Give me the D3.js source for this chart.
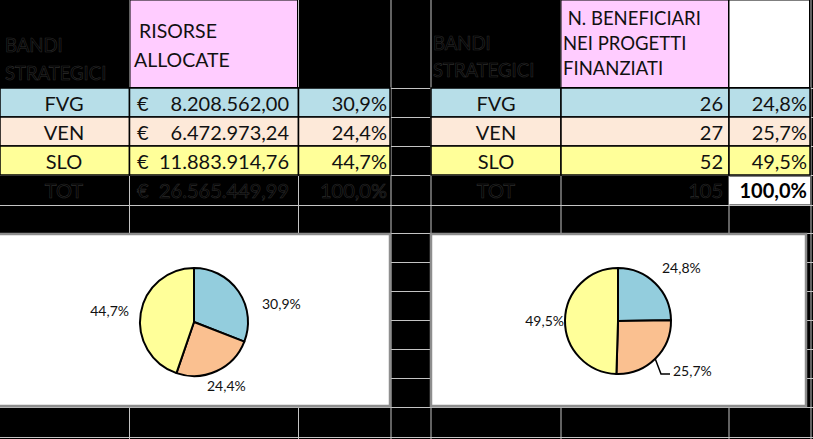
<!DOCTYPE html>
<html>
<head>
<meta charset="utf-8">
<script src="https://cdn.jsdelivr.net/npm/d3@7"></script>
<style>
  html, body { margin: 0; padding: 0; background: #000; }
  svg { display: block; }
  text { font-family: Lato, "Open Sans", sans-serif; }
</style>
</head>
<body>
<svg id="chart" width="813" height="439"></svg>
<script>
// ---------------- DATA ----------------
const categories = ["FVG", "VEN", "SLO"];
const risorse = [8208562.00, 6472973.24, 11883914.76];
const risorseTotale = 26565449.99;
const beneficiari = [26, 27, 52];
const beneficiariTotale = 105;
const headerLeft = ["BANDI", "STRATEGICI"];
const headerRisorse = [" RISORSE", "ALLOCATE"];
const headerBenef = [" N. BENEFICIARI", "NEI PROGETTI", "FINANZIATI"];
const totLabel = "TOT";

// ---------------- STYLE ----------------
const rowColors = ["#B7DEE8", "#FDE9D9", "#FFFF99"];
const pieColors = ["#93CDDD", "#FAC090", "#FFFF99"];
const pink = "#FFCCFF";
const gridColor = "#c4c4c4";

const loc = d3.formatLocale({decimal: ",", thousands: ".", grouping: [3], currency: ["€", ""]});
const fMoney = loc.format(",.2f");
const fPct = loc.format(".1%");
const fInt = loc.format("d");

const svg = d3.select("#chart");
const W = 813, H = 439;
svg.append("rect").attr("width", W).attr("height", H).attr("fill", "#000");

// grid geometry
const colX = [0, 129.5, 298.5, 391, 431, 561, 729, 811];
const rowY = [88, 117, 146, 175, 205, 233, 262, 291, 320, 349, 378, 407, 437];

const grid = svg.append("g").attr("stroke", gridColor).attr("stroke-width", 1);
colX.slice(1).forEach(x => grid.append("line").attr("x1", x).attr("x2", x).attr("y1", 0).attr("y2", H));
rowY.forEach(y => grid.append("line").attr("x1", 0).attr("x2", W).attr("y1", y + 0.5).attr("y2", y + 0.5));

// header cells
svg.append("rect").attr("x", 130).attr("y", 0).attr("width", 167.5).attr("height", 87.5).attr("fill", pink).attr("stroke", "#000");
svg.append("rect").attr("x", 561).attr("y", 0).attr("width", 167.5).attr("height", 87.5).attr("fill", pink).attr("stroke", "#000");
svg.append("rect").attr("x", 729).attr("y", 0).attr("width", 80.5).attr("height", 87.5).attr("fill", "#fff").attr("stroke", "#000");

const darkText = sel => sel.attr("fill", "#000").attr("stroke", "#2c2c2c").attr("stroke-width", 0.6);

// header text
const hs = 18.5;
headerLeft.forEach((t, i) => {
  darkText(svg.append("text").attr("x", 5).attr("y", 52 + i * 28).attr("font-size", hs).text(t));
  darkText(svg.append("text").attr("x", 433).attr("y", 50 + i * 27).attr("font-size", hs).text(t));
});
headerRisorse.forEach((t, i) => {
  svg.append("text").attr("x", 134).attr("y", 38 + i * 29).attr("font-size", 19.5)
    .attr("fill", "#111").style("white-space", "pre").text(t);
});
headerBenef.forEach((t, i) => {
  svg.append("text").attr("x", 563).attr("y", 25 + i * 25).attr("font-size", 18.5)
    .attr("fill", "#111").style("white-space", "pre").text(t);
});

// data rows
const rowH = 29;
const fs = 20;
categories.forEach((c, i) => {
  const y0 = rowY[i];
  const g = svg.append("g");
  [[0, 129.5], [129.5, 298.5], [298.5, 390]].forEach(([a, b]) =>
    g.append("rect").attr("x", a).attr("y", y0).attr("width", b - a).attr("height", rowH)
      .attr("fill", rowColors[i]).attr("stroke", "#000").attr("stroke-width", 1.5));
  [[431, 561], [561, 729], [729, 810]].forEach(([a, b]) =>
    g.append("rect").attr("x", a).attr("y", y0).attr("width", b - a).attr("height", rowH)
      .attr("fill", rowColors[i]).attr("stroke", "#000").attr("stroke-width", 1.5));
  const by = y0 + 23;
  g.append("text").attr("x", 64).attr("y", by).attr("text-anchor", "middle").attr("font-size", fs).attr("fill", "#111").text(c);
  g.append("text").attr("x", 137).attr("y", by).attr("font-size", fs).attr("fill", "#111").text("€");
  g.append("text").attr("x", 289).attr("y", by).attr("text-anchor", "end").attr("font-size", fs).attr("fill", "#111").text(fMoney(risorse[i]));
  g.append("text").attr("x", 387).attr("y", by).attr("text-anchor", "end").attr("font-size", fs).attr("fill", "#111").text(fPct(risorse[i] / risorseTotale));
  g.append("text").attr("x", 496).attr("y", by).attr("text-anchor", "middle").attr("font-size", fs).attr("fill", "#111").text(c);
  g.append("text").attr("x", 723).attr("y", by).attr("text-anchor", "end").attr("font-size", fs).attr("fill", "#111").text(fInt(beneficiari[i]));
  g.append("text").attr("x", 807).attr("y", by).attr("text-anchor", "end").attr("font-size", fs).attr("fill", "#111").text(fPct(beneficiari[i] / beneficiariTotale));
});

// TOT row
const ty = rowY[3] + 23;
darkText(svg.append("text").attr("x", 64).attr("y", ty).attr("text-anchor", "middle").attr("font-size", fs).text(totLabel));
darkText(svg.append("text").attr("x", 137).attr("y", ty).attr("font-size", fs).text("€"));
darkText(svg.append("text").attr("x", 289).attr("y", ty).attr("text-anchor", "end").attr("font-size", fs).text(fMoney(risorseTotale)));
darkText(svg.append("text").attr("x", 387).attr("y", ty).attr("text-anchor", "end").attr("font-size", fs).text(fPct(d3.sum(risorse) / risorseTotale)));
darkText(svg.append("text").attr("x", 496).attr("y", ty).attr("text-anchor", "middle").attr("font-size", fs).text(totLabel));
darkText(svg.append("text").attr("x", 723).attr("y", ty).attr("text-anchor", "end").attr("font-size", fs).text(fInt(beneficiariTotale)));
svg.append("rect").attr("x", 729).attr("y", 176.5).attr("width", 81).attr("height", 28).attr("fill", "#fff");
svg.append("text").attr("x", 807).attr("y", ty).attr("text-anchor", "end").attr("font-size", fs)
  .attr("font-weight", "bold").attr("fill", "#000").text(fPct(d3.sum(beneficiari) / beneficiariTotale));

// ---------------- PIES ----------------
function drawPie(box, values, total, cx, cy, r, labelLayout, leader) {
  svg.append("rect").attr("x", box[0]).attr("y", box[1]).attr("width", box[2] - box[0]).attr("height", box[3] - box[1])
    .attr("fill", "#fff").attr("stroke", "#8e8e8e").attr("stroke-width", 2.5);
  const pie = d3.pie().sort(null).value(d => d)(values);
  const arc = d3.arc().innerRadius(0).outerRadius(r);
  const g = svg.append("g").attr("transform", `translate(${cx},${cy})`);
  g.selectAll("path").data(pie).join("path")
    .attr("d", arc).attr("fill", (d, i) => pieColors[i])
    .attr("stroke", "#000").attr("stroke-width", 2).attr("stroke-linejoin", "round");
  pie.forEach((d, i) => {
    const L = labelLayout[i];
    g.append("text").attr("x", L[0]).attr("y", L[1]).attr("text-anchor", L[2])
      .attr("font-size", 14).attr("fill", "#111").text(fPct(values[i] / total));
  });
  if (leader) {
    const d = pie[leader.index];
    const a = (d.startAngle + d.endAngle) / 2;
    const p0 = [Math.sin(a) * r, -Math.cos(a) * r];
    g.append("path").attr("d", d3.line()([p0, leader.p1, leader.p2]))
      .attr("fill", "none").attr("stroke", "#000").attr("stroke-width", 1.5);
  }
}

drawPie([-3, 234, 390, 406], risorse, risorseTotale, 194, 322, 54,
  [[68, -13, "start"], [13, 69, "start"], [-65, -6, "end"]]);
drawPie([431, 234, 806, 406], beneficiari, beneficiariTotale, 618, 321, 53,
  [[44, -48, "start"], [55, 55, "start"], [-54, 5, "end"]],
  {index: 1, p1: [43, 53], p2: [52, 53]});
</script>
</body>
</html>
